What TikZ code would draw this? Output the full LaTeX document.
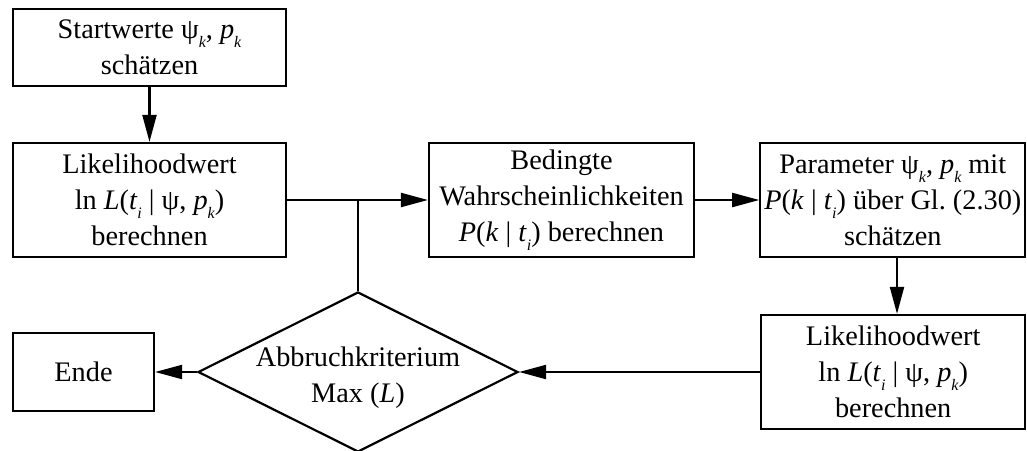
\documentclass[tikz,border=0pt]{standalone}
\usepackage{fontspec}
\setmainfont{Liberation Serif}
\usetikzlibrary{arrows.meta,shapes.geometric}
\frenchspacing
% italic subscript, set low as in the formula typesetting of the flow chart
\newcommand{\subx}[1]{\raisebox{-0.32em}{\fontsize{16}{16}\selectfont\itshape #1}}
\newcommand{\ivar}[1]{\textit{#1}}
\begin{document}
\begin{tikzpicture}[x=1pt,y=-1pt,
  every node/.style={font=\fontsize{28.3}{36}\selectfont, align=center, inner sep=0pt},
  procbox/.style={draw, line width=2.2pt, rectangle},
  decbox/.style={draw, line width=2.2pt, diamond, minimum width=320pt, minimum height=160pt},
  flow/.style={line width=2.1pt, -{Triangle[length=27pt,width=14pt]}},
  plain/.style={line width=2.1pt}]
\useasboundingbox (0,0) rectangle (1027,450);

\node[procbox, minimum width=273pt, minimum height=77pt] (start) at (149.5,47.5)
  {Startwerte ψ\subx{k}, \ivar{p}\subx{k}\\schätzen};
\node[procbox, minimum width=273pt, minimum height=114pt] (lik1) at (149.5,200)
  {Likelihoodwert\\ln \ivar{L}(\ivar{t}\subx{i} | ψ, \ivar{p}\subx{k})\\berechnen};
\node[procbox, minimum width=265pt, minimum height=114pt] (bed) at (561.5,200)
  {Bedingte\\Wahrscheinlichkeiten\\\ivar{P}(\ivar{k} | \ivar{t}\subx{i}) berechnen};
\node[procbox, minimum width=265pt, minimum height=114pt] (par) at (892.8,200)
  {Parameter ψ\subx{k}, \ivar{p}\subx{k} mit\\\ivar{P}(\ivar{k} | \ivar{t}\subx{i}) über Gl. (2.30)\\schätzen};
\node[procbox, minimum width=264pt, minimum height=114pt] (lik2) at (893.2,372)
  {Likelihoodwert\\ln \ivar{L}(\ivar{t}\subx{i} | ψ, \ivar{p}\subx{k})\\berechnen};
\node[procbox, minimum width=141pt, minimum height=78pt] (ende) at (83.5,372) {Ende};
\node[decbox] (dia) at (358,372) {};
\node (diatext) at (358,378) {Abbruchkriterium\\Max (\ivar{L})};

\coordinate (junc) at (dia.north |- lik1.east);
\coordinate (drop) at (897,0);

\draw[flow] (start) -- (lik1);
\draw[flow] (lik1.east) -- (bed.west);
\draw[plain] (junc) -- (dia.north);
\draw[flow] (bed.east) -- (par.west);
\draw[flow] (drop |- par.south) -- (drop |- lik2.north);
\draw[flow] (lik2.west) -- (dia.east);
\draw[flow] (dia.west) -- (ende.east);
\end{tikzpicture}
\end{document}
